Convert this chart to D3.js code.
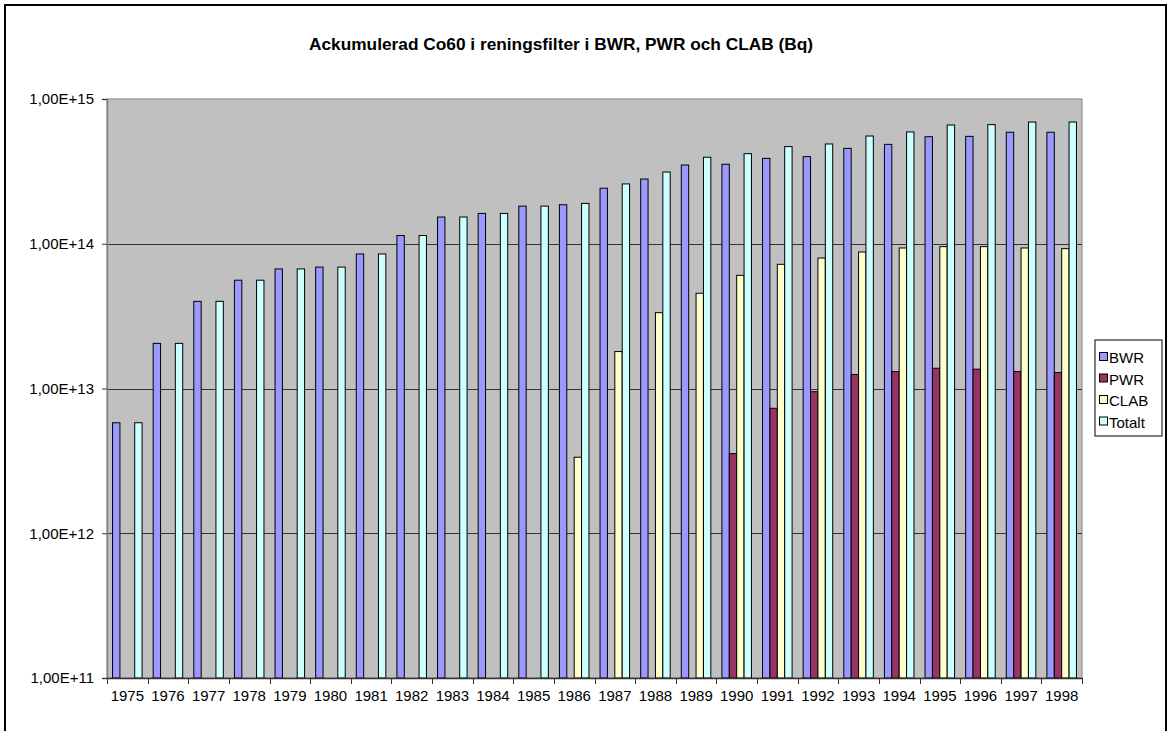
<!DOCTYPE html>
<html>
<head>
<meta charset="utf-8">
<script src="https://cdn.jsdelivr.net/npm/d3@7"></script>
<style>
    body { margin:0; background:#fff; }
    text { font-family: Arial, "Liberation Sans", sans-serif; fill:#000; }
</style>
</head>
<body>
<div id="chart"></div>
<script>

//******************************************************************************
//**  Data
//******************************************************************************
var years = [1975,1976,1977,1978,1979,1980,1981,1982,1983,1984,1985,1986,
             1987,1988,1989,1990,1991,1992,1993,1994,1995,1996,1997,1998];

var seriesNames = ["BWR", "PWR", "CLAB", "Totalt"];

var bwr = [5.8e12, 2.05e13, 4.0e13, 5.6e13, 6.7e13, 6.9e13, 8.5e13, 1.14e14,
           1.53e14, 1.62e14, 1.82e14, 1.86e14, 2.42e14, 2.80e14, 3.50e14, 3.54e14,
           3.89e14, 4.0e14, 4.56e14, 4.86e14, 5.49e14, 5.52e14, 5.89e14, 5.89e14];

var pwr = [null, null, null, null, null, null, null, null,
           null, null, null, null, null, null, null, 3.55e12,
           7.3e12, 9.5e12, 1.25e13, 1.31e13, 1.38e13, 1.36e13, 1.31e13, 1.29e13];

var clab = [null, null, null, null, null, null, null, null,
            null, null, null, 3.35e12, 1.80e13, 3.34e13, 4.55e13, 6.05e13,
            7.21e13, 7.97e13, 8.77e13, 9.35e13, 9.55e13, 9.55e13, 9.35e13, 9.25e13];

var totalt = [5.8e12, 2.05e13, 4.0e13, 5.6e13, 6.7e13, 6.9e13, 8.5e13, 1.14e14,
              1.53e14, 1.62e14, 1.82e14, 1.90e14, 2.59e14, 3.13e14, 3.96e14, 4.19e14,
              4.69e14, 4.89e14, 5.55e14, 5.92e14, 6.61e14, 6.65e14, 6.93e14, 6.93e14];

var yTicks = [1e11, 1e12, 1e13, 1e14, 1e15];

var colors = ["#9999ff", "#993366", "#ffffcc", "#ccffff"];


//******************************************************************************
//**  Chart
//******************************************************************************
var width = 1172, height = 731;
var plot = {left:107, right:1082, top:99, bottom:678};

var svg = d3.select("#chart").append("svg")
    .attr("width", width)
    .attr("height", height);

//outer frame
svg.append("rect")
    .attr("x", 5).attr("y", 5)
    .attr("width", 1161).attr("height", 740)
    .attr("fill", "#fff")
    .attr("stroke", "#000")
    .attr("stroke-width", 2);

//title
svg.append("text")
    .attr("x", 561).attr("y", 50)
    .attr("text-anchor", "middle")
    .style("font-size", "17.3px")
    .style("font-weight", "bold")
    .text("Ackumulerad Co60 i reningsfilter i BWR, PWR och CLAB (Bq)");


//scales
var x = d3.scaleBand().domain(years).range([plot.left, plot.right]);
var xs = d3.scaleBand().domain(seriesNames).range([0, x.bandwidth()]).paddingOuter(0.75);
var y = d3.scaleLog().domain([1e11, 1e15]).range([plot.bottom, plot.top]);


//plot area
svg.append("rect")
    .attr("x", plot.left).attr("y", plot.top)
    .attr("width", plot.right - plot.left)
    .attr("height", plot.bottom - plot.top)
    .attr("fill", "#c0c0c0")
    .attr("stroke", "#808080")
    .attr("stroke-width", 1);

//gridlines
svg.append("g")
    .selectAll("line")
    .data(yTicks.slice(1, 4))
    .enter().append("line")
    .attr("x1", plot.left).attr("x2", plot.right)
    .attr("y1", function(d){ return Math.round(y(d)) + 0.5; })
    .attr("y2", function(d){ return Math.round(y(d)) + 0.5; })
    .attr("stroke", "#333")
    .attr("stroke-width", 1);


//bars
var series = [bwr, pwr, clab, totalt];
var rows = [];
series.forEach(function(values, s){
    values.forEach(function(v, i){
        if (v) rows.push({year: years[i], name: seriesNames[s], value: v, color: colors[s]});
    });
});

svg.append("g")
    .selectAll("rect")
    .data(rows)
    .enter().append("rect")
    .attr("x", function(d){ return x(d.year) + xs(d.name); })
    .attr("y", function(d){ return y(d.value); })
    .attr("width", xs.bandwidth())
    .attr("height", function(d){ return y(1e11) - y(d.value); })
    .attr("fill", function(d){ return d.color; })
    .attr("stroke", "#000")
    .attr("stroke-width", 1);


//y axis
var yAxis = d3.axisLeft(y)
    .tickValues(yTicks)
    .tickSize(5)
    .tickPadding(8)
    .tickFormat(function(d){ return "1,00E+" + Math.round(Math.log10(d)); });

var ya = svg.append("g")
    .attr("transform", "translate(" + plot.left + ",0)")
    .call(yAxis);
ya.select(".domain").attr("stroke", "#808080").attr("stroke-width", 1.5);
ya.selectAll(".tick line").attr("stroke", "#333");
ya.selectAll(".tick text").style("font-size", "15px").style("font-family", "Arial, 'Liberation Sans', sans-serif");


//x axis
var xAxis = d3.axisBottom(x).tickSize(0).tickPadding(12);
var xa = svg.append("g")
    .attr("transform", "translate(0," + plot.bottom + ")")
    .call(xAxis);
xa.select(".domain").attr("stroke", "#333").attr("stroke-width", 1.5);
xa.selectAll(".tick text").style("font-size", "15px").style("font-family", "Arial, 'Liberation Sans', sans-serif");

//category boundary ticks
xa.append("g")
    .selectAll("line")
    .data(years.concat([null]))
    .enter().append("line")
    .attr("x1", function(d, i){ return Math.round(plot.left + i * x.step()) + 0.5; })
    .attr("x2", function(d, i){ return Math.round(plot.left + i * x.step()) + 0.5; })
    .attr("y1", 0).attr("y2", 6)
    .attr("stroke", "#333");


//legend
var legend = svg.append("g").attr("transform", "translate(1095,340)");
legend.append("rect")
    .attr("width", 67).attr("height", 96)
    .attr("fill", "#fff")
    .attr("stroke", "#000");

var items = legend.selectAll("g.item")
    .data(seriesNames)
    .enter().append("g")
    .attr("transform", function(d, i){ return "translate(4," + (18 + i * 21.5) + ")"; });

items.append("rect")
    .attr("x", 0.5).attr("y", -5.5)
    .attr("width", 8).attr("height", 8)
    .attr("fill", function(d, i){ return colors[i]; })
    .attr("stroke", "#000");

items.append("text")
    .attr("x", 10).attr("y", 5)
    .style("font-size", "15px")
    .text(function(d){ return d; });

</script>
</body>
</html>
